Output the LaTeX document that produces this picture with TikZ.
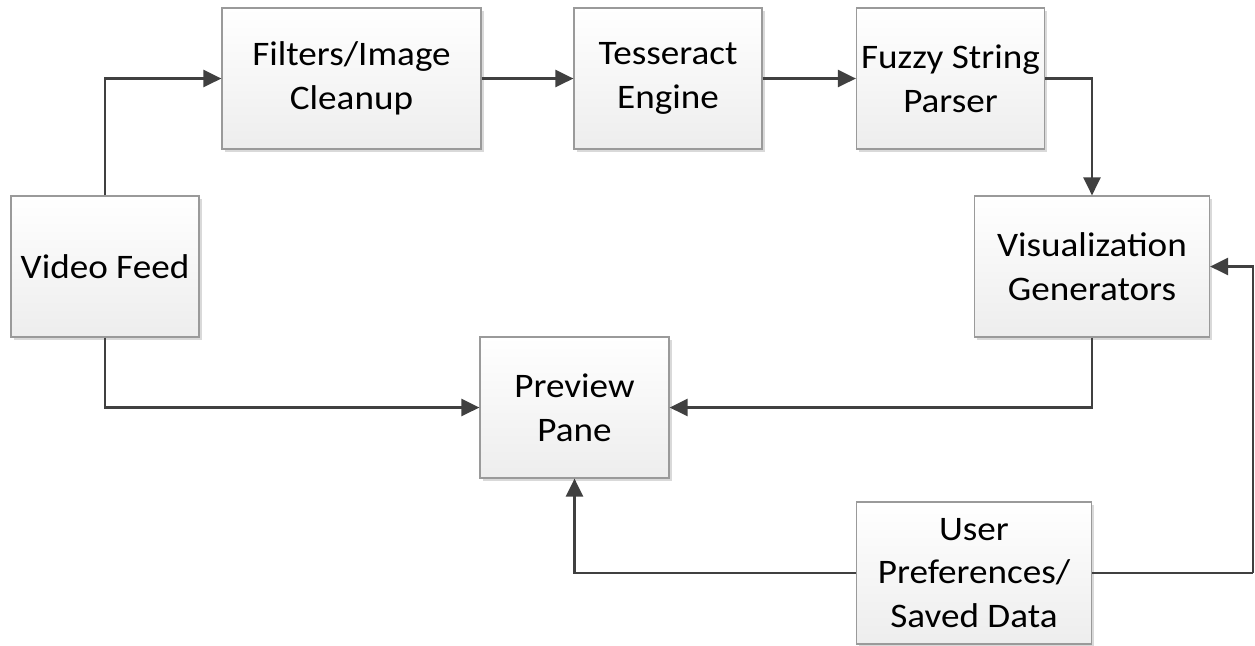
\documentclass[tikz,border=0pt]{standalone}
\usepackage{fontspec}
\setmainfont{Carlito}[FakeStretch=1.08]
\usetikzlibrary{arrows.meta,shadows}
\definecolor{linegray}{HTML}{404040}
\definecolor{boxline}{HTML}{9A9A9A}
\begin{document}
\begin{tikzpicture}[x=0.5pt,y=-0.5pt,
	block/.style={rectangle,draw=boxline,line width=0.6pt,top color=white,bottom color=black!7,
		drop shadow={shadow xshift=1.4pt,shadow yshift=-1.4pt,fill=black!15,opacity=1},
		align=center,inner sep=0pt,font=\fontsize{17.2}{21.8}\selectfont},
	link/.style={color=linegray,line width=1.3pt,-{Triangle[length=9pt,width=8.5pt]}},
	wire/.style={color=linegray,line width=1.3pt}]
	\useasboundingbox (0,0) rectangle (1255,645);
	% les blocs
	\node[block,minimum width=94pt,minimum height=70.5pt] (video) at (105,266.5) {Video Feed};
	\node[block,minimum width=129.5pt,minimum height=70.5pt] (filters) at (351.5,78.5) {Filters/Image\\Cleanup};
	\node[block,minimum width=94pt,minimum height=70.5pt] (tess) at (668,78.5) {Tesseract\\Engine};
	\node[block,minimum width=94pt,minimum height=70.5pt] (fuzzy) at (950.5,78.5) {Fuzzy String\\Parser};
	\node[block,minimum width=117.5pt,minimum height=70.5pt] (viz) at (1092,266.5) {Visualization\\Generators};
	\node[block,minimum width=94.5pt,minimum height=70.5pt] (preview) at (574.5,407.5) {Preview\\Pane};
	\node[block,minimum width=117.5pt,minimum height=71pt] (user) at (974,573) {User\\Preferences/\\Saved Data};
	\coordinate (rt) at (1253,573);
	% les liaisons
	\draw[link] (video.north) |- (filters.west);
	\draw[link] (filters.east) -- (tess.west);
	\draw[link] (tess.east) -- (fuzzy.west);
	\draw[link] (fuzzy.east) -| (viz.north);
	\draw[link] (viz.south) |- (preview.east);
	\draw[link] (video.south) |- (preview.west);
	\draw[link] (user.west) -| (preview.south);
	\draw[wire] (user.east) -- (rt);
	\draw[link] (rt) |- (viz.east);
\end{tikzpicture}
\end{document}
